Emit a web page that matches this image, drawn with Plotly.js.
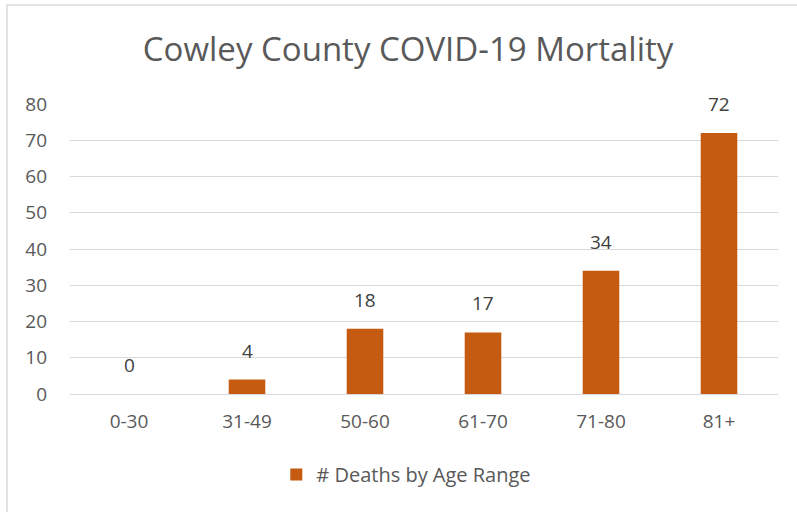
<!DOCTYPE html>
<html><head><meta charset="utf-8">
<script src="https://cdn.plot.ly/plotly-3.0.1.min.js"></script>
<style>html,body{margin:0;padding:0;background:#fff;}#chart{width:797px;height:512px;}</style>
</head><body><div id="chart"></div>
<script>
const categories = ["0-30","31-49","50-60","61-70","71-80","81+"];
const deaths = [0,4,18,17,34,72];
const seriesName = "# Deaths by Age Range";
const yTicks = [0,10,20,30,40,50,60,70,80];

const gray = "#595959";
const fontFam = "'Open Sans', sans-serif";

const trace = {
  type: "bar",
  x: categories,
  y: deaths,
  name: seriesName,
  marker: {color: "#C55A11"},
  width: 0.31,
  hoverinfo: "none"
};

const annotations = categories.map((c,i)=>({
  x: c, y: deaths[i], xref: "x", yref: "y",
  text: String(deaths[i]), showarrow: false,
  yanchor: "bottom", yshift: 14,
  font: {family: fontFam, size: 19, color: "#404040"}
}));

const layout = {
  width: 797, height: 512,
  margin: {l: 70, r: 19, t: 104, b: 118},
  paper_bgcolor: "#fff", plot_bgcolor: "#fff",
  title: {text: "Cowley County COVID-19 Mortality", x: 0.512, xanchor: "center", y: 0.903, yanchor: "middle",
    font: {family: fontFam, size: 33, color: gray}},
  xaxis: {type: "category", showgrid: false, zeroline: false, showline: false,
    ticks: "", ticklabelstandoff: 14,
    tickfont: {family: fontFam, size: 19, color: gray}},
  yaxis: {range: [0, 80], tickvals: yTicks, showgrid: true, gridcolor: "#d9d9d9", gridwidth: 1,
    zeroline: true, zerolinecolor: "#d9d9d9", zerolinewidth: 1, showline: false, ticks: "",
    ticklabelstandoff: 22,
    tickfont: {family: fontFam, size: 19, color: gray}},
  showlegend: true,
  legend: {orientation: "h", x: 0.475, xanchor: "center", y: -0.21, yanchor: "top",
    font: {family: fontFam, size: 20, color: gray}, itemwidth: 30},
  annotations: annotations,
  shapes: [{type: "rect", xref: "paper", yref: "paper", x0: -0.089, x1: 1.05, y0: -0.45, y1: 1.341,
    line: {color: "#d9d9d9", width: 1.5}, fillcolor: "rgba(0,0,0,0)", layer: "below"}]
};

Plotly.newPlot("chart", [trace], layout, {displayModeBar: false, staticPlot: true});
</script></body></html>
